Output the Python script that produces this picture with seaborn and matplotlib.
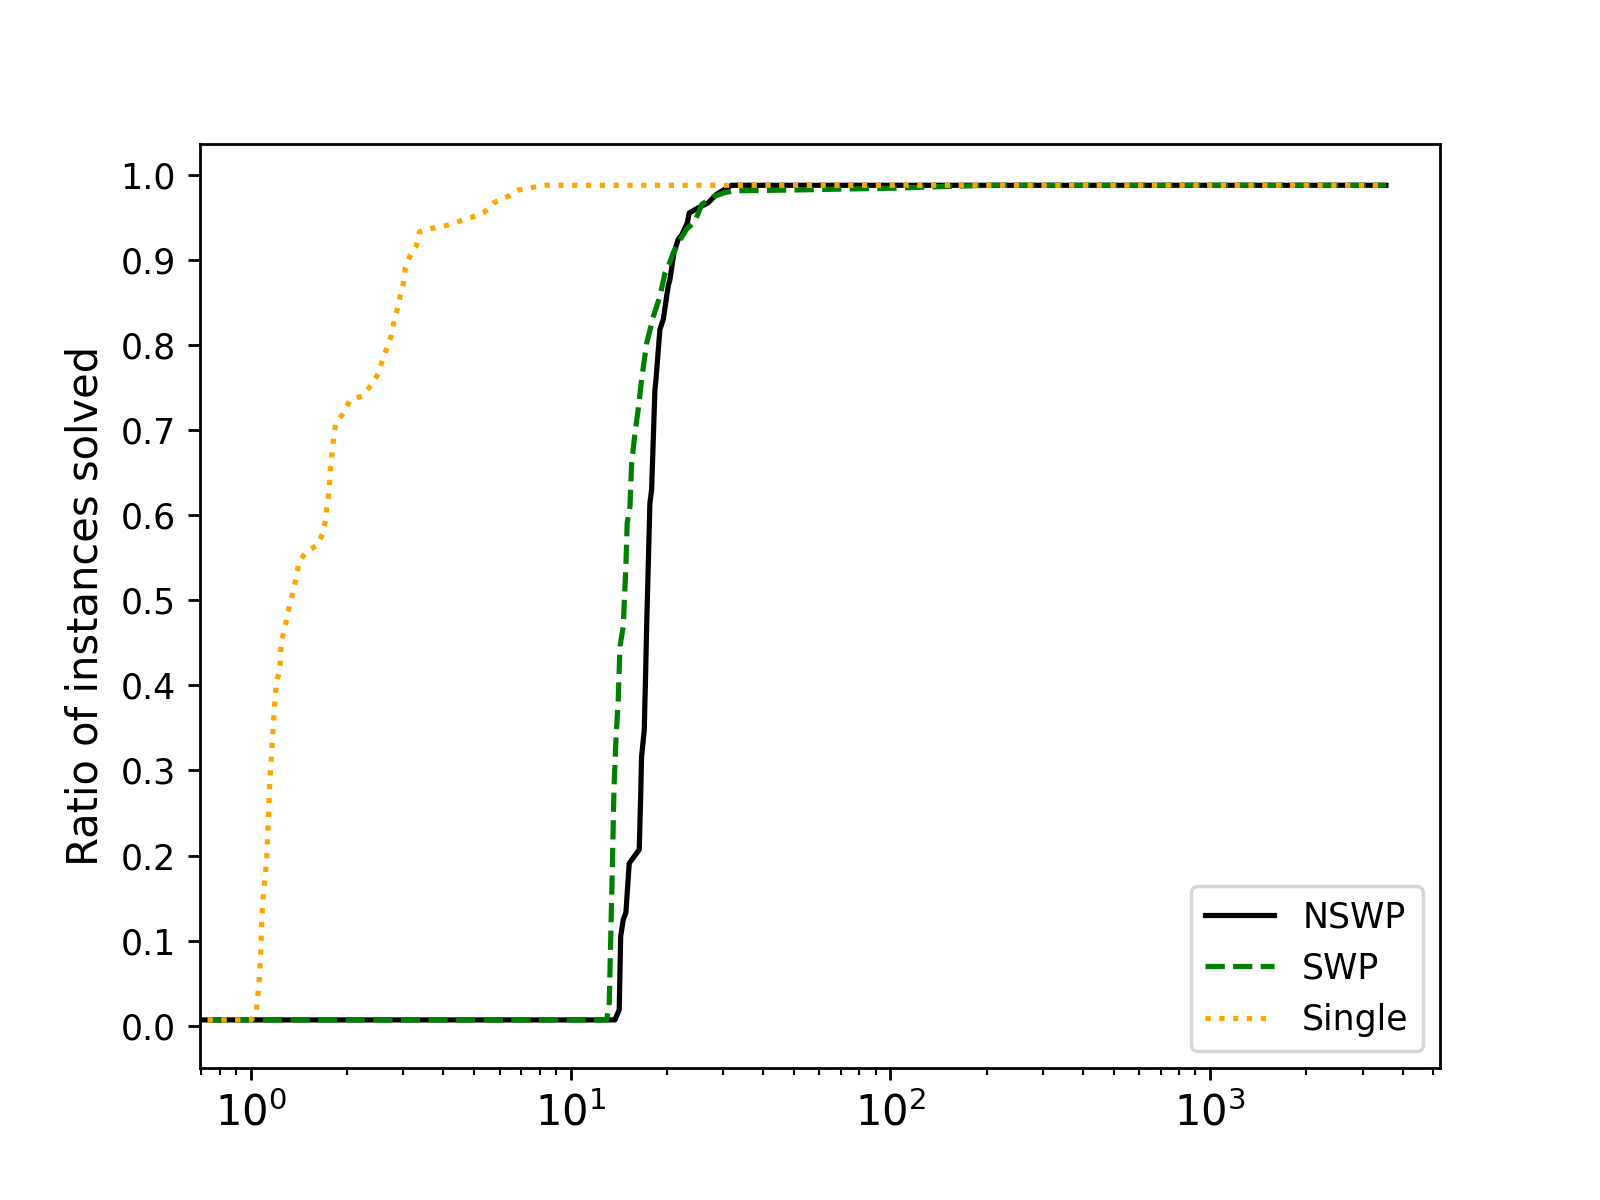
import matplotlib
matplotlib.use("Agg")
import matplotlib.pyplot as plt
import numpy as np
import seaborn as sns

# performance profile data (tau = ratio, rho = fraction of instances solved)
tau_nswp = [0.6, 13.76, 14.19, 14.34, 14.61, 14.89, 15.25, 16.39, 16.56, 16.67,
            17.0, 17.08, 17.12, 17.29, 17.70, 17.92, 18.35, 18.49, 19.02, 19.49,
            20.19, 20.45, 21.04, 21.71, 22.24, 23.16, 23.50, 25.06, 26.94, 28.62,
            30.39, 31.89, 3550]
rho_nswp = [0.007, 0.007, 0.019, 0.105, 0.125, 0.133, 0.191, 0.207, 0.269, 0.316,
            0.348, 0.383, 0.395, 0.469, 0.614, 0.630, 0.747, 0.759, 0.818, 0.830,
            0.869, 0.877, 0.908, 0.924, 0.929, 0.943, 0.955, 0.961, 0.967, 0.977,
            0.983, 0.9875, 0.9875]

tau_swp = [0.6, 12.96, 13.21, 13.34, 13.53, 13.66, 13.86, 14.09, 14.27, 14.61,
           14.89, 15.03, 15.33, 15.52, 15.89, 16.27, 16.67, 17.29, 17.70, 18.13,
           19.02, 19.72, 20.19, 20.94, 21.71, 23.07, 24.48, 25.70, 27.93, 30.39,
           32.65, 50, 70, 100, 145, 205, 3550]
rho_swp = [0.007, 0.007, 0.027, 0.098, 0.199, 0.277, 0.336, 0.383, 0.446, 0.469,
           0.540, 0.591, 0.610, 0.661, 0.696, 0.724, 0.759, 0.802, 0.817, 0.833,
           0.857, 0.884, 0.892, 0.908, 0.920, 0.936, 0.945, 0.965, 0.974, 0.979,
           0.981, 0.982, 0.983, 0.984, 0.986, 0.9875, 0.9875]

tau_single = [0.6, 1.0, 1.039, 1.059, 1.072, 1.082, 1.098, 1.12, 1.133, 1.147,
              1.169, 1.183, 1.20, 1.232, 1.238, 1.244, 1.275, 1.30, 1.33, 1.363,
              1.39, 1.413, 1.49, 1.617, 1.68, 1.713, 1.729, 1.754, 1.766, 1.775,
              1.80, 1.815, 1.843, 1.95, 2.04, 2.23, 2.37, 2.50, 2.57, 2.66,
              2.75, 2.80, 2.87, 2.93, 3.00, 3.04, 3.14, 3.29, 3.37, 3.69,
              4.06, 4.47, 4.91, 5.38, 5.75, 6.34, 6.89, 7.59, 8.35, 3550]
rho_single = [0.007, 0.007, 0.016, 0.048, 0.080, 0.129, 0.161, 0.194, 0.242, 0.291,
              0.339, 0.371, 0.403, 0.419, 0.436, 0.452, 0.466, 0.483, 0.498, 0.514,
              0.529, 0.545, 0.557, 0.565, 0.579, 0.595, 0.611, 0.627, 0.644, 0.660,
              0.676, 0.692, 0.708, 0.720, 0.735, 0.740, 0.752, 0.766, 0.780, 0.796,
              0.811, 0.827, 0.842, 0.858, 0.873, 0.890, 0.904, 0.916, 0.933, 0.937,
              0.940, 0.945, 0.950, 0.956, 0.967, 0.974, 0.982, 0.985, 0.9875, 0.9875]

y_ticks = [0.0, 0.1, 0.2, 0.3, 0.4, 0.5, 0.6, 0.7, 0.8, 0.9, 1.0]

fig, ax = plt.subplots(figsize=(6.4, 4.8), dpi=250)
ax.set_xscale("log")

sns.lineplot(x=tau_nswp, y=rho_nswp, ax=ax, color="black", linestyle="-",
             linewidth=1.5, estimator=None, sort=False, label="NSWP")
sns.lineplot(x=tau_swp, y=rho_swp, ax=ax, color="green", linestyle="--",
             linewidth=1.5, estimator=None, sort=False, label="SWP")
sns.lineplot(x=tau_single, y=rho_single, ax=ax, color="orange", linestyle=":",
             linewidth=1.5, estimator=None, sort=False, label="Single")

ax.set_xlim(0.693, 5240)
ax.set_ylim(-0.0495, 1.036)
ax.set_yticks(y_ticks)
ax.set_ylabel("Ratio of instances solved", fontsize=12)
ax.tick_params(axis="x", labelsize=12)
ax.legend(loc="lower right", fontsize=10)

plt.savefig("out.png", dpi=250)
